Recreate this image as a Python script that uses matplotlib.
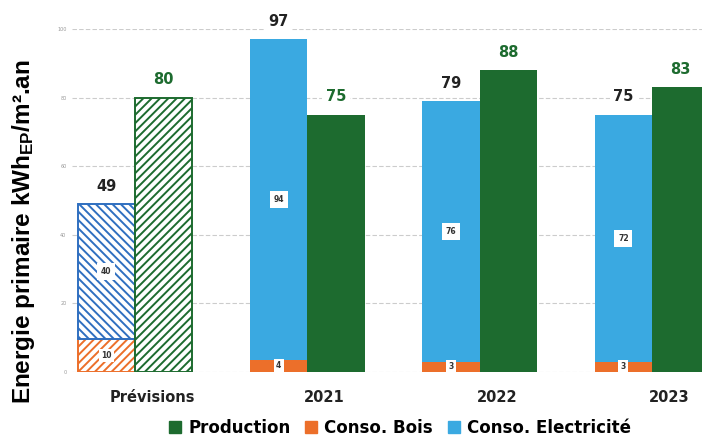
import matplotlib
matplotlib.use("Agg")
import matplotlib.pyplot as plt
import numpy as np
from matplotlib.patches import Patch

categories = ["Prévisions", "2021", "2022", "2023"]
conso_bois = [9.5, 3.5, 3, 3]
conso_elec = [39.5, 93.5, 76, 72]
production = [80, 75, 88, 83]
yticks = [0, 20, 40, 60, 80, 100]

C_GREEN = "#1d6b2f"
C_ORANGE = "#ec6f2a"
C_BLUE = "#3aa9e1"
C_BLUE_H = "#2f6fc0"

plt.rcParams["font.family"] = ["DejaVu Sans"]
plt.rcParams["hatch.linewidth"] = 1.4
plt.rcParams["mathtext.fontset"] = "custom"
plt.rcParams["mathtext.bf"] = "Liberation Sans:weight=bold"
plt.rcParams["mathtext.rm"] = "Liberation Sans:weight=bold"
plt.rcParams["mathtext.default"] = "bf"

fig = plt.figure(figsize=(7.02, 4.36), dpi=100)
ax = fig.add_axes([72/702, 1-372/436, 630/702, (372-29)/436])

x = np.arange(len(categories))
w = 0.333
for i in range(len(categories)):
    forecast = i == 0
    xl = x[i] - w/2
    xr = x[i] + w/2
    if forecast:
        ax.bar(xl, conso_bois[i], w, color="white", edgecolor=C_ORANGE, hatch="////", linewidth=1.4)
        ax.bar(xl, conso_elec[i], w, bottom=conso_bois[i], color="white", edgecolor=C_BLUE_H, hatch="\\\\\\\\", linewidth=1.4)
        ax.bar(xr, production[i], w, color="white", edgecolor=C_GREEN, hatch="////", linewidth=1.4)
    else:
        ax.bar(xl, conso_bois[i], w, color=C_ORANGE, linewidth=0)
        ax.bar(xl, conso_elec[i], w, bottom=conso_bois[i], color=C_BLUE, linewidth=0)
        ax.bar(xr, production[i], w, color=C_GREEN, linewidth=0)
    total = conso_bois[i] + conso_elec[i]
    ax.text(xl, total + 5.2, f"{total:.0f}", ha="center", va="center", fontsize=10.5,
            fontweight="bold", color="#222222",
            bbox=dict(boxstyle="square,pad=0.25", fc="white", ec="none"), clip_on=False)
    ax.text(xr, production[i] + 5.2, f"{production[i]:.0f}", ha="center", va="center", fontsize=10.5,
            fontweight="bold", color=C_GREEN,
            bbox=dict(boxstyle="square,pad=0.25", fc="white", ec="none"), clip_on=False)
    ax.text(xl, conso_bois[i] + conso_elec[i]/2, f"{round(conso_elec[i])}", ha="center", va="center",
            fontsize=5.5, fontweight="bold", color="#333333",
            bbox=dict(boxstyle="square,pad=0.5", fc="white", ec="none"))
    ax.text(xl, conso_bois[i]/2, f"{round(conso_bois[i])}", ha="center", va="center",
            fontsize=5.5, fontweight="bold", color="#333333",
            bbox=dict(boxstyle="square,pad=0.3", fc="white", ec="none"))

ax.set_xlim(-0.366, 3.29)
ax.set_ylim(0, 100)
ax.set_yticks(yticks)
ax.set_yticklabels([str(v) for v in yticks], fontsize=3.5, color="#999999")
ax.tick_params(axis="y", length=0, pad=4)
ax.set_xticks(x + 0.1)
ax.set_xticklabels(categories, fontsize=10.5, fontweight="bold", color="#222222")
ax.tick_params(axis="x", length=0, pad=13)
ax.grid(axis="y", color="#cccccc", linestyle=(0, (4, 2)), linewidth=0.8)
ax.set_axisbelow(True)
for s in ax.spines.values():
    s.set_visible(False)

fig.text(24/702, 1-232/436, "Energie primaire kWh$_{EP}$/m².an", rotation=90,
         ha="center", va="center", fontsize=17.5, fontweight="bold", color="black",
         family="Liberation Sans")

handles = [Patch(color=C_GREEN), Patch(color=C_ORANGE), Patch(color=C_BLUE)]
fig.legend(handles, ["Production", "Conso. Bois", "Conso. Electricité"], loc="center",
           bbox_to_anchor=(400/702, 1-428/436), ncol=3, frameon=False,
           handlelength=0.72, handleheight=0.72, handletextpad=0.42, columnspacing=0.9,
           prop=dict(weight="bold", size=12, family="DejaVu Sans"))

fig.savefig("out.png", dpi=100)
